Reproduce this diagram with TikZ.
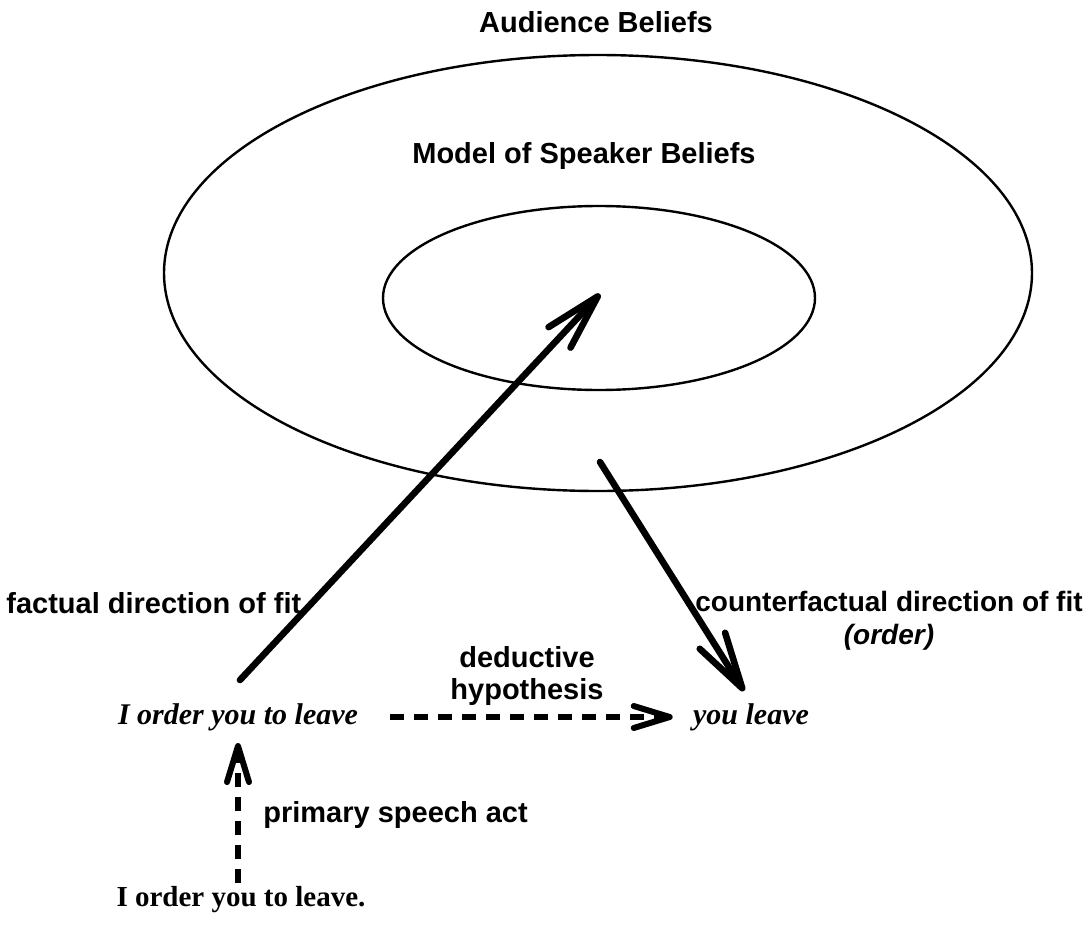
\documentclass[tikz,border=0pt]{standalone}
\usepackage{fontspec}
\setmainfont{Liberation Serif}
\setsansfont{Liberation Sans}
\usetikzlibrary{arrows.meta}
\begin{document}
\begin{tikzpicture}[x=0.5pt,y=-0.5pt,
  caption/.style={font=\sffamily\bfseries\fontsize{14.5}{16.25}\selectfont, inner sep=0pt},
  phrase/.style={font=\rmfamily\bfseries\itshape\fontsize{15}{18}\selectfont, inner sep=0pt},
  utterance/.style={font=\rmfamily\bfseries\fontsize{14.5}{18}\selectfont, inner sep=0pt},
  region/.style={draw, line width=1.2pt},
  fitarrow/.style={line width=3.3pt, line cap=round, line join=round,
    -{Straight Barb[length=28pt,width=15pt,round]}},
  inferarrow/.style={line width=3pt, dash pattern=on 7pt off 5pt,
    -{Straight Barb[length=18pt,width=11pt,round]}}]

\useasboundingbox (0,0) rectangle (1088,926);

% belief regions
\draw[region] (598,273) ellipse [x radius=434, y radius=218];
\draw[region] (599,298) ellipse [x radius=216, y radius=92];
\node[caption] (aud) at (596,22) {Audience Beliefs};
\node[caption] (spk) at (584,156) {Model of Speaker Beliefs};

% utterances and propositions
\node[phrase] (order) at (238,717) {I order you to leave};
\node[phrase] (leave) at (751,717) {you leave};
\node[utterance] (utter) at (241,900) {I order you to leave.};

% arrow labels
\node[caption, anchor=west] (factual) at (6,603) {factual direction of fit};
\node[caption, font=\sffamily\bfseries\fontsize{14}{16.25}\selectfont, align=center]
  (counter) at (889,621) {counterfactual direction of fit\\\textit{(order)}};
\node[caption, align=center] (deduct) at (527,676) {deductive\\hypothesis};
\node[caption, anchor=west] (primary) at (263,815) {primary speech act};

% directions of fit
\coordinate (fitstart) at (240,680);
\coordinate (modelc) at (600,294);
\coordinate (cfstart) at (600,462);
\coordinate (cfend) at (744,691);
\draw[fitarrow] (fitstart) -- (modelc);
\draw[fitarrow] (cfstart) -- (cfend);

% inference and primary act
\draw[inferarrow, shorten <=16pt, shorten >=10pt] (order.east) -- (leave.west);
\draw[inferarrow, shorten <=1.5pt, shorten >=6pt] (utter.north -| order.south) -- (order.south);
\end{tikzpicture}
\end{document}
